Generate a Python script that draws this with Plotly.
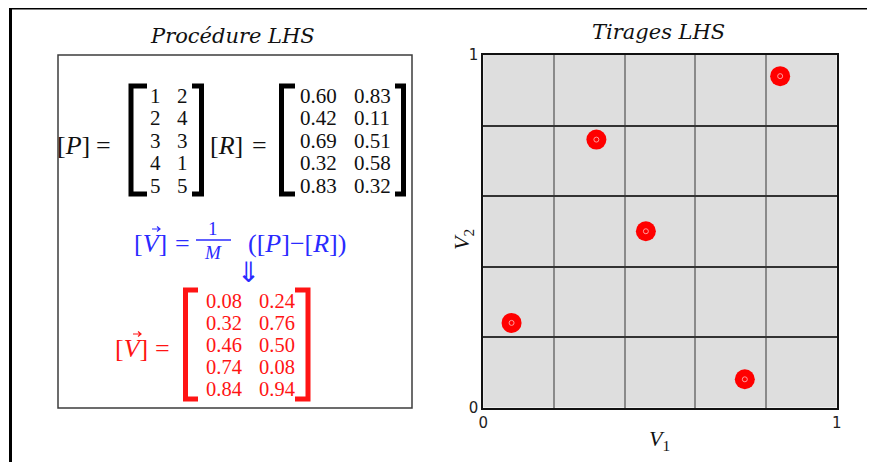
import plotly.graph_objects as go

# ---------------- data ----------------
P_col1 = [1, 2, 3, 4, 5]
P_col2 = [2, 4, 3, 1, 5]
R_col1 = [0.60, 0.42, 0.69, 0.32, 0.83]
R_col2 = [0.83, 0.11, 0.51, 0.58, 0.32]
V1 = [0.08, 0.32, 0.46, 0.74, 0.84]
V2 = [0.24, 0.76, 0.50, 0.08, 0.94]
axis_ticks = [0, 1]
axis_ticktext = ["0", "1"]
grid_step = 0.2

W, H = 875, 462
OFF = 8  # page offset of the figure (body margin)
def X(p):
    return (p - OFF) / W
def Y(p):
    return 1 - (p - OFF) / H

SERIF = "Liberation Serif"
TSERIF = "DejaVu Serif"
SANS = "DejaVu Sans"
BLUE = "#2a2aff"
RED = "#ff1414"

fig = go.Figure()
fig.add_trace(go.Scatter(x=V1, y=V2, mode="markers",
                         marker=dict(size=20, color="#ff0000", line=dict(width=0)),
                         hoverinfo="skip", showlegend=False))
fig.add_trace(go.Scatter(x=V1, y=V2, mode="markers",
                         marker=dict(symbol="circle-open", size=5, color="#ff9c9c",
                                     line=dict(width=1, color="#ff9c9c")),
                         hoverinfo="skip", showlegend=False))

ann = []
shapes = []

def text(x, y, s, size, color="#111", family=SERIF, xa="center", ya="middle"):
    ann.append(dict(x=X(x), y=Y(y), xref="paper", yref="paper", text=s,
                    showarrow=False, xanchor=xa, yanchor=ya,
                    font=dict(family=family, size=size, color=color)))

def bracket(xv, xarm, ytop, ybot, color, width=5):
    shapes.append(dict(type="path", xref="paper", yref="paper",
                       path=f"M {X(xarm)},{Y(ytop)} L {X(xv)},{Y(ytop)} L {X(xv)},{Y(ybot)} L {X(xarm)},{Y(ybot)}",
                       line=dict(color=color, width=width)))

def vec(x, y, color):
    # small vector arrow over V
    shapes.append(dict(type="path", xref="paper", yref="paper",
                       path=f"M {X(x-4)},{Y(y)} L {X(x+4)},{Y(y)} M {X(x+1)},{Y(y-2.5)} L {X(x+4)},{Y(y)} L {X(x+1)},{Y(y+2.5)}",
                       line=dict(color=color, width=1.2)))

# outer frame (top and left)
shapes.append(dict(type="line", xref="paper", yref="paper", x0=X(9), x1=1, y0=Y(8), y1=Y(8),
                   line=dict(color="#000", width=3)))
shapes.append(dict(type="line", xref="paper", yref="paper", x0=X(10.5), x1=X(10.5), y0=Y(7), y1=0,
                   line=dict(color="#000", width=3)))
# left box
shapes.append(dict(type="rect", xref="paper", yref="paper", x0=X(58), x1=X(412), y0=Y(55), y1=Y(408),
                   line=dict(color="#3c3c3c", width=1.5)))

# titles
text(233, 36, "<i>Procédure LHS</i>", 21, family=TSERIF)
text(658, 32, "<i>Tirages LHS</i>", 21, family=TSERIF)

# [P] = matrix
rows_PR = [96, 118.5, 141, 163.5, 186]
text(73, 145, "[<i>P</i>]", 26)
text(103, 145, "=", 26)
bracket(131, 147, 86, 194, "#000")
bracket(201.5, 192, 86, 194, "#000")
for i in range(5):
    text(155, rows_PR[i], str(P_col1[i]), 21)
    text(182, rows_PR[i], str(P_col2[i]), 21)

# [R] = matrix
text(226, 145, "[<i>R</i>]", 26)
text(260, 145, "=", 26)
bracket(281.5, 295, 86, 194, "#000")
bracket(403.5, 395, 86, 194, "#000")
for i in range(5):
    text(318, rows_PR[i], f"{R_col1[i]:.2f}", 21)
    text(372, rows_PR[i], f"{R_col2[i]:.2f}", 21)

# blue formula
text(150, 243, "[<i>V</i>]", 26, BLUE)
vec(156, 229, BLUE)
text(182, 243, "=", 26, BLUE)
text(213, 229, "1", 19, BLUE)
text(213, 252, "<i>M</i>", 19, BLUE)
shapes.append(dict(type="line", xref="paper", yref="paper", x0=X(196), x1=X(231), y0=Y(240), y1=Y(240),
                   line=dict(color=BLUE, width=1.3)))
text(297, 243, "([<i>P</i>]\u2212[<i>R</i>])", 26, BLUE)
text(249, 272, "\u21d3", 28, BLUE, family="DejaVu Sans")

# red result
rows_V = [301, 323, 345, 367, 389]
text(131, 348, "[<i>V</i>]", 26, RED)
vec(137, 334, RED)
text(162, 348, "=", 26, RED)
bracket(185.5, 198, 290, 399, RED)
bracket(308, 295, 290, 399, RED)
for i in range(5):
    text(224, rows_V[i], f"{V1[i]:.2f}", 20.5, RED)
    text(277, rows_V[i], f"{V2[i]:.2f}", 20.5, RED)

# axis titles
text(659, 440, "<i>V</i><sub>1</sub>", 22)
ann.append(dict(x=X(463), y=Y(240), xref="paper", yref="paper", text="<i>V</i><sub>2</sub>",
                showarrow=False, textangle=-90, xanchor="center", yanchor="middle",
                font=dict(family=SERIF, size=22, color="#111")))

axis_common = dict(range=[0, 1], tickvals=axis_ticks, ticktext=axis_ticktext,
                   showgrid=False, zeroline=False, showline=True, mirror=True,
                   linecolor="#111", linewidth=2, ticks="", automargin=False,
                   tickfont=dict(family=SANS, size=15, color="#222"))

fig.update_layout(
    width=W, height=H,
    autosize=False,
    margin=dict(l=0, r=0, t=0, b=0, pad=0, autoexpand=False),
    paper_bgcolor="white",
    plot_bgcolor="#dedede",
    showlegend=False,
    xaxis=dict(domain=[X(483.3), X(836.7)], **axis_common,
               minor=dict(dtick=grid_step, tick0=0, showgrid=True, gridcolor="#8a8a8a", gridwidth=1.5, ticks="")),
    yaxis=dict(domain=[Y(407.5), Y(55)], **axis_common,
               minor=dict(dtick=grid_step, tick0=0, showgrid=True, gridcolor="#333333", gridwidth=1.5, ticks="")),
    annotations=ann,
    shapes=shapes,
)

fig.write_html("out.html")
